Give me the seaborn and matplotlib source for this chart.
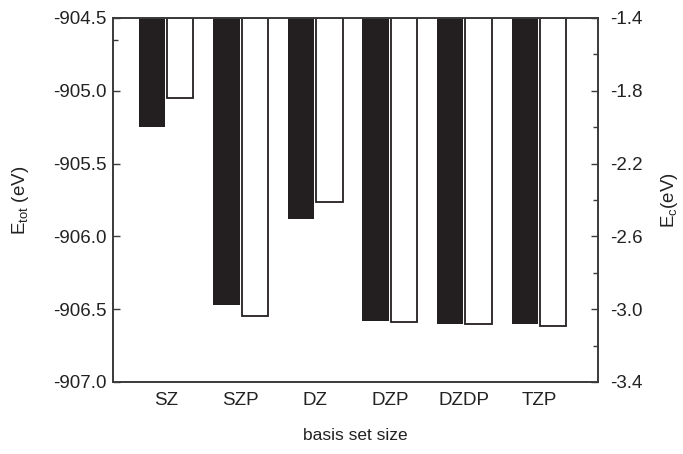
import numpy as np
import matplotlib
matplotlib.use("Agg")
import matplotlib.pyplot as plt
from matplotlib.ticker import FixedLocator, MultipleLocator, FormatStrFormatter
import seaborn as sns

# basis sets and energies (eV)
basis = ["SZ", "SZP", "DZ", "DZP", "DZDP", "TZP"]
e_tot = [-905.25, -906.47, -905.88, -906.58, -906.60, -906.60]   # left axis, filled bars
e_c = [-1.84, -3.04, -2.41, -3.07, -3.08, -3.09]                 # right axis, open bars

# axis ranges (bars hang from the top of each axis)
tot_top, tot_bottom = -904.5, -907.0
c_top, c_bottom = -1.4, -3.4

sns.set_style("ticks")
plt.rcParams["font.family"] = ["Liberation Sans", "DejaVu Sans"]
plt.rcParams["mathtext.fontset"] = "custom"
plt.rcParams["mathtext.rm"] = "Liberation Sans"
plt.rcParams["mathtext.it"] = "Liberation Sans"

ink = "#231f20"
spine_col = "#3a3a3a"

fig = plt.figure(figsize=(6.83, 4.54), dpi=100)
ax = fig.add_axes([0.166, 0.1586, 0.709, 0.8018])
ax2 = ax.twinx()

pos = np.arange(len(basis))
off = 0.19
bw = 0.355

sns.barplot(x=pos - off, y=np.array(e_tot) - tot_top, bottom=tot_top,
            native_scale=True, width=bw, color=ink, saturation=1,
            errorbar=None, linewidth=0, ax=ax)
sns.barplot(x=pos + off, y=np.array(e_c) - c_top, bottom=c_top,
            native_scale=True, width=bw, color="white", saturation=1,
            errorbar=None, edgecolor=ink, linewidth=1.3, ax=ax2)

ax.set_ylim(tot_bottom, tot_top)
ax2.set_ylim(c_bottom, c_top)
ax.set_xlim(-0.706, 5.787)

ax.yaxis.set_major_locator(MultipleLocator(0.5))
ax.yaxis.set_major_formatter(FormatStrFormatter("%.1f"))
minor_tot = [-904.65 + k * 2 / 7 for k in range(8) if k != 3]
ax.yaxis.set_minor_locator(FixedLocator(minor_tot))
c_major = [c_top - 0.4 * k for k in range(6)]
c_minor = [c_top - 0.2 - 0.4 * k for k in range(5)]
ax2.yaxis.set_major_locator(FixedLocator(c_major))
ax2.yaxis.set_major_formatter(FormatStrFormatter("%.1f"))
ax2.yaxis.set_minor_locator(FixedLocator(c_minor))

ax.set_xticks(pos)
ax.set_xticklabels(basis)

fs = 13.5
ax.tick_params(axis="y", which="major", direction="in", length=5, width=1,
               color=spine_col, labelsize=fs, pad=5, labelcolor="#222222",
               left=True, right=False)
ax.tick_params(axis="y", which="minor", direction="in", length=3.5, width=1,
               color=spine_col, left=True, right=False)
ax.tick_params(axis="x", which="both", length=0, labelsize=fs, pad=7,
               labelcolor="#222222")
ax2.tick_params(axis="y", which="major", direction="in", length=5, width=1,
                color=spine_col, labelsize=fs, pad=9, labelcolor="#222222")
ax2.tick_params(axis="y", which="minor", direction="in", length=3.5, width=1,
                color=spine_col)

for a in (ax, ax2):
    for s in a.spines.values():
        s.set_visible(True)
        s.set_color(spine_col)
        s.set_linewidth(1.2)

ax.set_xlabel("basis set size", fontsize=12.5, color="#222222", labelpad=14)
ax.set_ylabel(r"E$_{\rm tot}$ (eV)", fontsize=13.5, color="#222222", labelpad=16)
ax2.set_ylabel(r"E$_{\rm c}$(eV)", fontsize=13.5, color="#222222", labelpad=12)

fig.savefig("out.png", dpi=100)
